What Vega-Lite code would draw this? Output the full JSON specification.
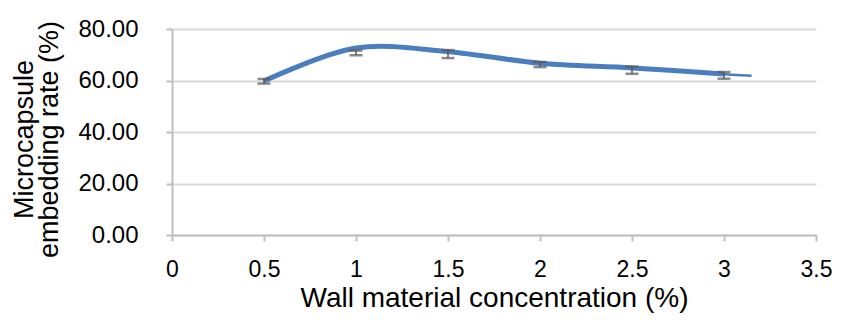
{
  "$schema": "https://vega.github.io/schema/vega-lite/v6.json",
  "width": 644,
  "height": 206,
  "autosize": {"type": "none"},
  "padding": {"left": 172, "top": 29, "right": 25, "bottom": 85},
  "background": "white",
  "config": {
    "view": {"stroke": null},
    "font": "Liberation Sans"
  },
  "datasets": {
    "thick": [
      {"conc": 0.5, "rate": 59.8},
      {"conc": 1.0, "rate": 72.6},
      {"conc": 1.5, "rate": 71.2},
      {"conc": 2.0, "rate": 66.7},
      {"conc": 2.5, "rate": 64.9},
      {"conc": 3.0, "rate": 62.5}
    ],
    "thin": [
      {"conc": 0.5, "rate": 59.8},
      {"conc": 1.0, "rate": 72.6},
      {"conc": 1.5, "rate": 71.1},
      {"conc": 2.0, "rate": 66.6},
      {"conc": 2.5, "rate": 64.8},
      {"conc": 3.0, "rate": 62.4},
      {"conc": 3.15, "rate": 61.8}
    ],
    "err": [
      {"conc": 0.5, "lo": 58.8, "hi": 60.6},
      {"conc": 1.0, "lo": 69.8, "hi": 71.6},
      {"conc": 1.5, "lo": 68.7, "hi": 71.8},
      {"conc": 2.0, "lo": 65.2, "hi": 67.2},
      {"conc": 2.5, "lo": 62.6, "hi": 65.4},
      {"conc": 3.0, "lo": 60.7, "hi": 63.3}
    ]
  },
  "layer": [
    {
      "data": {"name": "thick"},
      "mark": {"type": "line", "interpolate": "catmull-rom", "color": "#4a7ebf", "strokeWidth": 5},
      "encoding": {
        "x": {
          "field": "conc", "type": "quantitative",
          "scale": {"domain": [0, 3.5], "nice": false, "zero": false},
          "axis": {
            "title": "Wall material concentration (%)",
            "values": [0, 0.5, 1, 1.5, 2, 2.5, 3, 3.5],
            "format": "~g",
            "grid": false,
            "labelFlush": false,
            "domainColor": "#bfbfbf", "domainWidth": 2,
            "tickColor": "#bfbfbf", "tickWidth": 2, "tickSize": 6,
            "labelFont": "Liberation Sans", "labelFontSize": 23, "labelColor": "#000000",
            "labelPadding": 17,
            "titleFont": "Liberation Sans", "titleFontSize": 28, "titleFontWeight": "normal", "titleColor": "#000000",
            "titlePadding": 3
          }
        },
        "y": {
          "field": "rate", "type": "quantitative",
          "scale": {"domain": [0, 80], "nice": false},
          "axis": {
            "title": ["Microcapsule", "embedding rate (%)"],
            "values": [0, 20, 40, 60, 80],
            "format": ".2f",
            "grid": true, "gridColor": "#d9d9d9", "gridWidth": 2,
            "domainColor": "#bfbfbf", "domainWidth": 2,
            "tickColor": "#bfbfbf", "tickWidth": 2, "tickSize": 6,
            "labelFont": "Liberation Sans", "labelFontSize": 24, "labelColor": "#000000",
            "labelPadding": 28,
            "titleFont": "Liberation Sans", "titleFontSize": 27, "titleFontWeight": "normal", "titleColor": "#000000",
            "titleLineHeight": 25,
            "titlePadding": 14,
            "titleY": 110
          }
        }
      }
    },
    {
      "data": {"name": "thin"},
      "mark": {"type": "line", "interpolate": "catmull-rom", "color": "#4a7ebf", "strokeWidth": 2.5},
      "encoding": {
        "x": {"field": "conc", "type": "quantitative"},
        "y": {"field": "rate", "type": "quantitative"}
      }
    },
    {
      "data": {"name": "err"},
      "mark": {"type": "rule", "color": "#595959", "strokeWidth": 1.5},
      "encoding": {
        "x": {"field": "conc", "type": "quantitative"},
        "y": {"field": "lo", "type": "quantitative"},
        "y2": {"field": "hi"}
      }
    },
    {
      "data": {"name": "err"},
      "mark": {"type": "tick", "orient": "horizontal", "color": "#595959", "size": 13, "thickness": 2.5},
      "encoding": {
        "x": {"field": "conc", "type": "quantitative"},
        "y": {"field": "lo", "type": "quantitative"}
      }
    },
    {
      "data": {"name": "err"},
      "mark": {"type": "tick", "orient": "horizontal", "color": "#595959", "size": 13, "thickness": 2.5},
      "encoding": {
        "x": {"field": "conc", "type": "quantitative"},
        "y": {"field": "hi", "type": "quantitative"}
      }
    }
  ]
}
